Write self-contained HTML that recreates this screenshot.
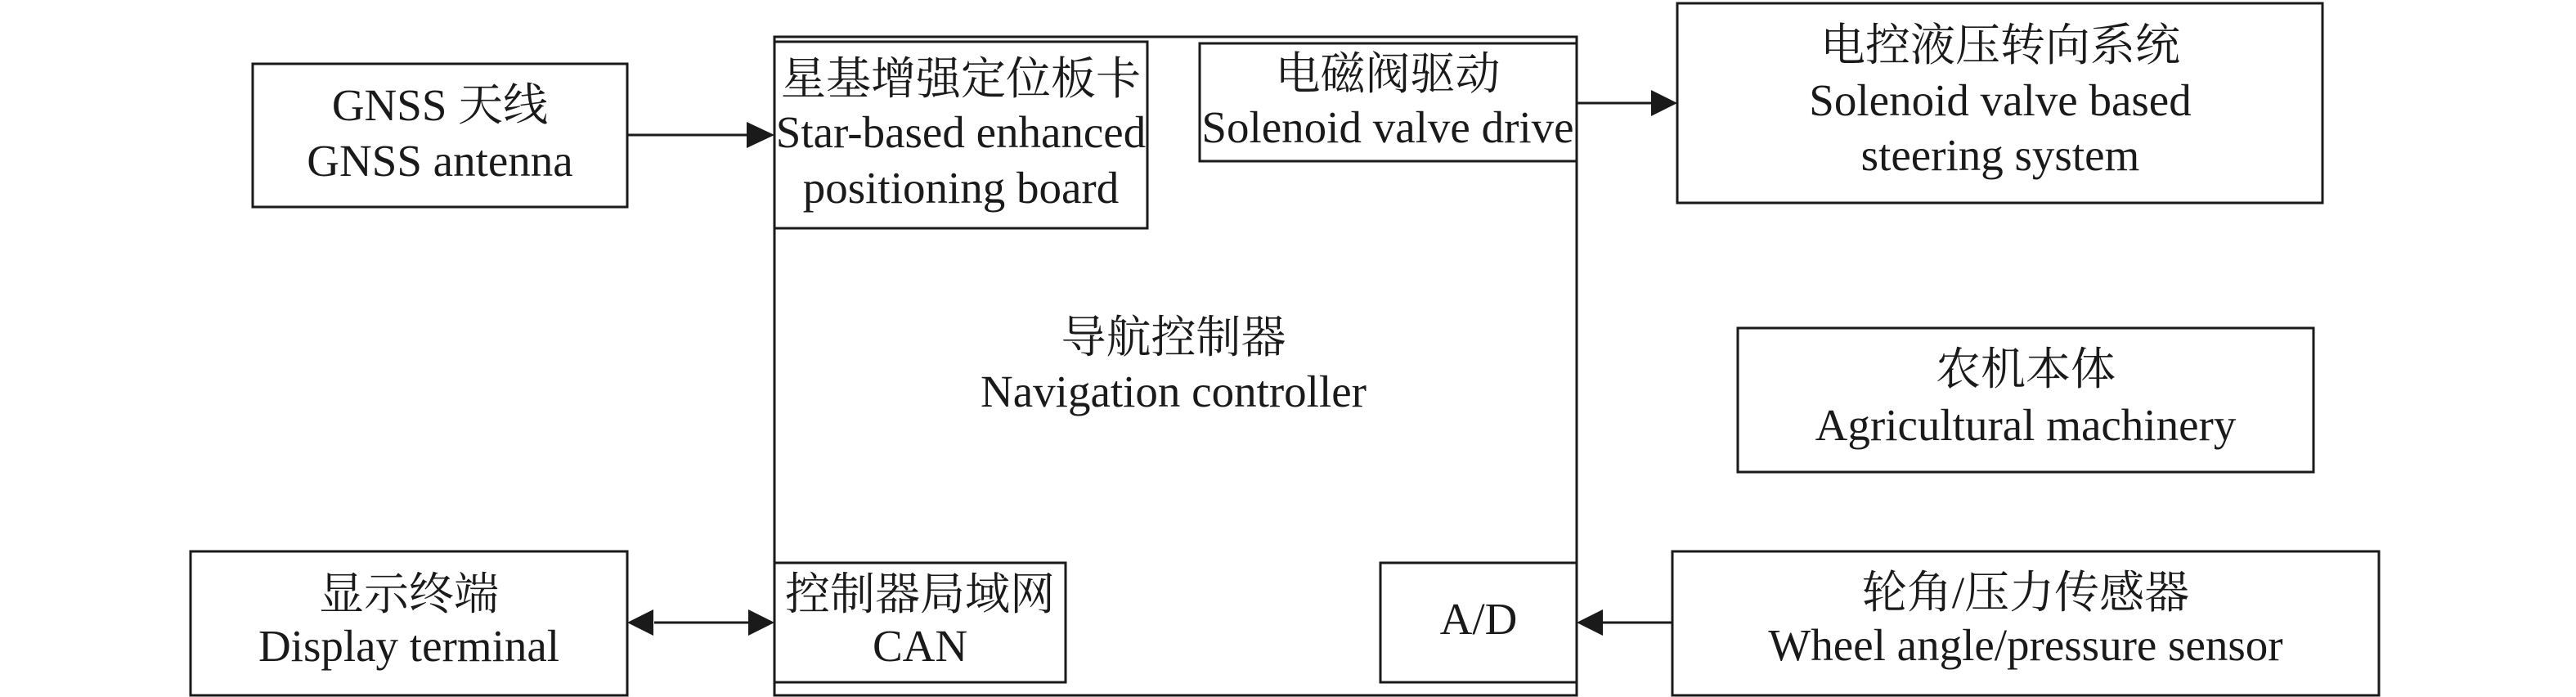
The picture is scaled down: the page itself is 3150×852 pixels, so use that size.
<!DOCTYPE html>
<html><head><meta charset="utf-8"><style>
html,body{margin:0;padding:0;background:#fff;}
svg{display:block;}
text{font-family:"Liberation Serif","Noto Serif CJK SC",serif;font-size:55px;fill:#1a1a1a;text-anchor:middle;}
</style></head><body>
<svg width="3150" height="852" viewBox="0 0 3150 852" xmlns="http://www.w3.org/2000/svg">
<g fill="none" stroke="#1a1a1a" stroke-width="3">
<rect x="309" y="78" width="458" height="175"/>
<rect x="947" y="45" width="981" height="805"/>
<rect x="947" y="51" width="456" height="228"/>
<rect x="1467" y="53" width="461" height="144"/>
<rect x="2051" y="4" width="789" height="244"/>
<rect x="2125" y="401" width="704" height="176"/>
<rect x="233" y="674" width="534" height="176"/>
<rect x="947" y="688" width="356" height="146"/>
<rect x="1688" y="688" width="240" height="146"/>
<rect x="2045" y="674" width="864" height="176"/>
<line x1="767" y1="165" x2="915" y2="165"/>
<line x1="1928" y1="126" x2="2022" y2="126"/>
<line x1="800" y1="761" x2="915" y2="761"/>
<line x1="1960" y1="761" x2="2045" y2="761"/>
</g>
<g fill="#1a1a1a">
<polygon points="947,165 913,149 913,181"/>
<polygon points="2051,126 2019,110 2019,142"/>
<polygon points="947,761 915,745 915,777"/>
<polygon points="767,761 799,745 799,777"/>
<polygon points="1928,761 1960,745 1960,777"/>
</g>
<text x="538" y="147">GNSS 天线</text>
<text x="538" y="215">GNSS antenna</text>
<text x="1175" y="115">星基增强定位板卡</text>
<text x="1175" y="180">Star-based enhanced</text>
<text x="1175" y="248">positioning board</text>
<text x="1697" y="109">电磁阀驱动</text>
<text x="1697" y="174">Solenoid valve drive</text>
<text x="2446" y="74">电控液压转向系统</text>
<text x="2446" y="141">Solenoid valve based</text>
<text x="2446" y="208">steering system</text>
<text x="1435" y="431">导航控制器</text>
<text x="1435" y="497">Navigation controller</text>
<text x="2477" y="470">农机本体</text>
<text x="2477" y="538">Agricultural machinery</text>
<text x="500" y="745">显示终端</text>
<text x="500" y="808">Display terminal</text>
<text x="1125" y="745">控制器局域网</text>
<text x="1125" y="808">CAN</text>
<text x="1808" y="775">A/D</text>
<text x="2477" y="743">轮角/压力传感器</text>
<text x="2477" y="807">Wheel angle/pressure sensor</text>
</svg>
</body></html>
